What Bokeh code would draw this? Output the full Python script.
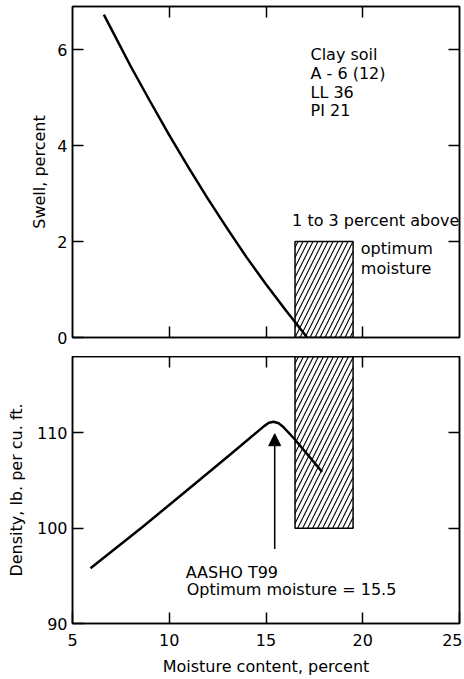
from bokeh.plotting import figure
from bokeh.layouts import column
from bokeh.models import (Range1d, FixedTicker, LinearAxis, Arrow, NormalHead,
                          CustomJSTickFormatter)
from bokeh.core.properties import value
from bokeh.embed import file_html
from bokeh.resources import INLINE

FONT = "DejaVu Sans"
FS = "16px"

# ---------------- data ----------------
swell_x = [6.62, 8.0, 9.0, 10.0, 11.0, 12.0, 13.0, 14.0, 15.0, 16.0, 17.13]
swell_y = [6.73, 5.66, 4.93, 4.22, 3.54, 2.89, 2.27, 1.67, 1.11, 0.58, 0.0]

density_x = [5.93, 8.6, 11.0, 13.2, 14.9, 15.15, 15.4, 15.65, 15.9, 16.45, 17.9]
density_y = [95.8, 100.1, 104.1, 107.8, 110.7, 111.05, 111.15, 111.0, 110.6, 109.4, 105.9]

band_left = [16.5]
band_right = [19.5]
band_swell_bottom = [0.0]
band_swell_top = [2.0]
band_density_bottom = [100.0]
band_density_top = [118.0]

optimum_moisture = 15.45
arrow_from = 97.8
arrow_to = 109.9

x_tick_labels = [5, 10, 15, 20, 25]
x_inner_ticks = [10, 15, 20]
swell_ticks = [0, 2, 4, 6]
density_ticks = [90, 100, 110]

soil_lines = ["Clay soil", "A - 6 (12)", "LL 36", "PI 21"]
band_lines = ["1 to 3 percent above", "optimum", "moisture"]
test_lines = ["AASHO  T99", "Optimum  moisture = 15.5"]

# annotation positions
soil_x = 17.3
soil_y = [5.9, 5.51, 5.11, 4.74]
band_text_x = [16.35, 19.9, 19.9]
band_text_y = [2.44, 1.85, 1.43]
test_x = [10.85, 10.9]
test_y = [95.35, 93.55]


def style_axis(ax, ticks, labels=True):
    ax.ticker = FixedTicker(ticks=ticks)
    ax.axis_line_color = "black"
    ax.axis_line_width = 1.5
    ax.major_tick_in = 11
    ax.major_tick_out = 0
    ax.major_tick_line_width = 1.5
    ax.major_tick_line_color = "black"
    ax.minor_tick_line_color = None
    ax.major_label_text_font = FONT
    ax.major_label_text_font_size = FS
    ax.major_label_text_color = "black"
    ax.axis_label_text_font = FONT
    ax.axis_label_text_font_size = FS
    ax.axis_label_text_font_style = "normal"
    ax.axis_label_text_color = "black"
    if not labels:
        ax.formatter = CustomJSTickFormatter(code="return ''")
        ax.major_label_standoff = 0


def base(fig):
    fig.grid.visible = False
    fig.outline_line_color = "black"
    fig.outline_line_width = 1.5
    fig.background_fill_color = "white"
    fig.border_fill_color = "white"


# ---------------- top panel: swell ----------------
p1 = figure(width=462, height=356, x_range=Range1d(5, 25), y_range=Range1d(0, 6.9),
            output_backend="svg", toolbar_location=None,
            min_border_left=72, min_border_right=3, min_border_top=6, min_border_bottom=19)
base(p1)
style_axis(p1.xaxis[0], x_inner_ticks, labels=False)
style_axis(p1.yaxis[0], swell_ticks)
p1.yaxis[0].axis_label = "Swell, percent"
p1.yaxis[0].major_label_standoff = 5
p1.yaxis[0].axis_label_standoff = 5
ax_top = LinearAxis()
style_axis(ax_top, x_inner_ticks, labels=False)
p1.add_layout(ax_top, "above")
ax_right = LinearAxis()
style_axis(ax_right, [2, 4, 6], labels=False)
p1.add_layout(ax_right, "right")

p1.quad(left=band_left, right=band_right, bottom=band_swell_bottom, top=band_swell_top,
        fill_color=None, line_color="black", line_width=1.5,
        hatch_pattern="/", hatch_color="black", hatch_scale=10, hatch_weight=1.1)
p1.line(swell_x, swell_y, line_color="black", line_width=2.5, line_join="round")

p1.text(x=[soil_x] * len(soil_lines), y=soil_y, text=soil_lines,
        text_font=value(FONT), text_font_size=FS, text_color="black",
        text_baseline="middle", text_align="left")
p1.text(x=band_text_x, y=band_text_y, text=band_lines,
        text_font=value(FONT), text_font_size=FS, text_color="black",
        text_baseline="middle", text_align="left")

# ---------------- bottom panel: density ----------------
p2 = figure(width=462, height=322, x_range=Range1d(5, 25), y_range=Range1d(90, 118),
            output_backend="svg", toolbar_location=None,
            min_border_left=72, min_border_right=3, min_border_top=0, min_border_bottom=54)
base(p2)
style_axis(p2.xaxis[0], x_tick_labels)
p2.xaxis[0].axis_label = "Moisture content, percent"
p2.xaxis[0].major_label_standoff = 10
p2.xaxis[0].axis_label_standoff = 8
style_axis(p2.yaxis[0], density_ticks)
p2.yaxis[0].axis_label = "Density, lb. per cu. ft."
p2.yaxis[0].major_label_standoff = 5
p2.yaxis[0].axis_label_standoff = 8
ax_top2 = LinearAxis()
style_axis(ax_top2, x_inner_ticks, labels=False)
p2.add_layout(ax_top2, "above")
ax_right2 = LinearAxis()
style_axis(ax_right2, [100, 110], labels=False)
p2.add_layout(ax_right2, "right")

p2.quad(left=band_left, right=band_right, bottom=band_density_bottom, top=band_density_top,
        fill_color=None, line_color="black", line_width=1.5,
        hatch_pattern="/", hatch_color="black", hatch_scale=10, hatch_weight=1.1)
p2.line(density_x, density_y, line_color="black", line_width=2.5, line_join="round")

p2.add_layout(Arrow(end=NormalHead(size=12, fill_color="black", line_color="black"),
                    x_start=optimum_moisture, y_start=arrow_from,
                    x_end=optimum_moisture, y_end=arrow_to,
                    line_color="black", line_width=1.5))

p2.text(x=test_x, y=test_y, text=test_lines,
        text_font=value(FONT), text_font_size=FS, text_color="black",
        text_baseline="middle", text_align="left")

layout = column(p1, p2)
open("out.html", "w").write(file_html(layout, INLINE))
